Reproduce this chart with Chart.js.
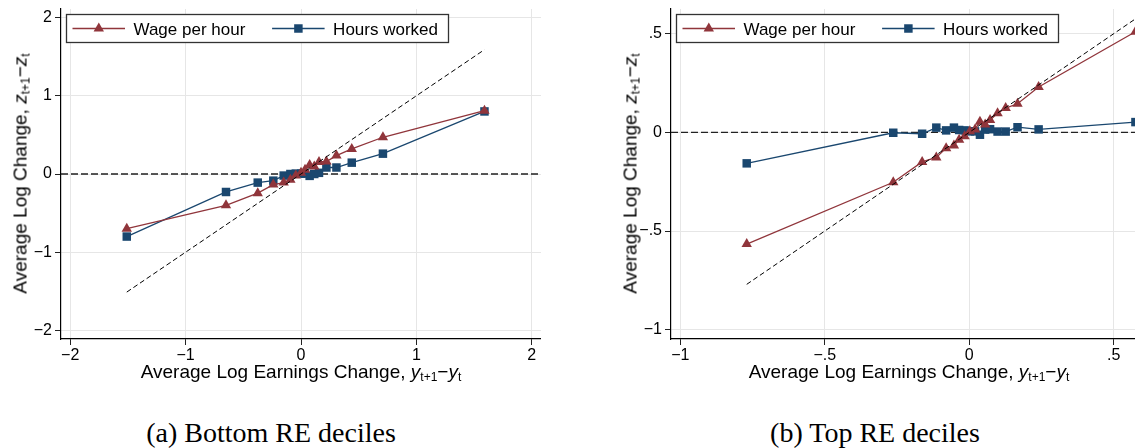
<!DOCTYPE html>
<html>
<head>
<meta charset="utf-8">
<script src="https://cdn.jsdelivr.net/npm/chart.js@4.4.1/dist/chart.umd.min.js"></script>
<style>
  html, body { margin: 0; padding: 0; background: #fff; }
  #wrap { position: relative; width: 1135px; height: 448px; overflow: hidden; }
  canvas { position: absolute; top: 0; }
  .xt, .yt { position: absolute; font-family: "Liberation Sans", Arial, sans-serif; font-size: 19px;
             line-height: 19px; height: 19px; width: 400px; text-align: center; color: #000; white-space: nowrap; }
  .yt { width: 300px; transform: rotate(-90deg); }
  .xt sub, .yt sub { font-size: 12px; vertical-align: -3px; line-height: 0; }
  .cap { position: absolute; font-family: "Liberation Serif", "Times New Roman", serif; font-size: 28px;
         line-height: 28px; width: 400px; text-align: center; color: #000; white-space: nowrap; }
</style>
</head>
<body>
<div id="wrap">
  <canvas id="cA" width="541" height="372" style="left:0"></canvas>
  <canvas id="cB" width="537" height="372" style="left:610px"></canvas>

  <div class="yt" style="left:-129.6px; top:163.5px">Average Log Change, <i>z</i><sub>t+1</sub>−<i>z</i><sub>t</sub></div>
  <div class="yt" style="left:480.4px; top:163.5px">Average Log Change, <i>z</i><sub>t+1</sub>−<i>z</i><sub>t</sub></div>
  <div class="xt" style="left:101px; top:362px">Average Log Earnings Change, <i>y</i><sub>t+1</sub>−<i>y</i><sub>t</sub></div>
  <div class="xt" style="left:709px; top:362px">Average Log Earnings Change, <i>y</i><sub>t+1</sub>−<i>y</i><sub>t</sub></div>

  <div class="cap" style="left:71px; top:418.5px">(a) Bottom RE deciles</div>
  <div class="cap" style="left:675px; top:418.5px">(b) Top RE deciles</div>
</div>

<script>
// ---- panel (a): bottom RE deciles ----
const earnA = [-1.51, -0.65, -0.375, -0.24, -0.15, -0.092, -0.045, 0.0, 0.035, 0.075, 0.115, 0.156, 0.22, 0.307, 0.44, 0.71, 1.59];
const wageA = [-0.70, -0.40, -0.245, -0.135, -0.11, -0.075, -0.02, 0.017, 0.055, 0.115, 0.095, 0.155, 0.16, 0.235, 0.32, 0.47, 0.81];
const hoursA = [-0.80, -0.23, -0.11, -0.085, -0.02, 0.0, 0.005, 0.005, 0.005, -0.024, 0.0, 0.015, 0.083, 0.083, 0.145, 0.26, 0.80];
const xTicksA = [-2, -1, 0, 1, 2];
const yTicksA = [-2, -1, 0, 1, 2];
const xRangeA = [-2.08, 2.08];
const yRangeA = [-2.11, 2.11];

// ---- panel (b): top RE deciles ----
const earnB = [-0.77, -0.263, -0.163, -0.114, -0.08, -0.053, -0.035, -0.016, 0.002, 0.02, 0.037, 0.055, 0.072, 0.098, 0.126, 0.167, 0.24, 0.575];
const wageB = [-0.566, -0.253, -0.15, -0.127, -0.08, -0.066, -0.037, -0.02, 0.005, 0.015, 0.054, 0.04, 0.063, 0.097, 0.123, 0.145, 0.23, 0.51];
const hoursB = [-0.157, -0.002, -0.007, 0.024, 0.01, 0.024, 0.012, 0.01, 0.005, 0.005, -0.012, 0.014, 0.016, 0.004, 0.004, 0.026, 0.015, 0.052];
const xTicksB = [-1, -0.5, 0, 0.5];
const yTicksB = [-1, -0.5, 0, 0.5];
const xRangeB = [-1.032, 0.615];
const yRangeB = [-1.047, 0.625];

const seriesNames = ['Wage per hour', 'Hours worked'];
const RED = '#90353b';
const NAVY = '#1a476f';

function fmt(v) {
  if (v === 0) return '0';
  let s = String(Math.abs(v)).replace(/^0\./, '.');
  return (v < 0 ? '\u2212' : '') + s;
}

function marker(ctx, style, x, y, r, color) {
  ctx.fillStyle = color;
  ctx.beginPath();
  if (style === 'triangle') {
    ctx.moveTo(x, y - r);
    ctx.lineTo(x + r * 0.866, y + r * 0.5);
    ctx.lineTo(x - r * 0.866, y + r * 0.5);
    ctx.closePath();
  } else {
    const h = r * Math.SQRT1_2;
    ctx.rect(x - h, y - h, 2 * h, 2 * h);
  }
  ctx.fill();
}

// legend in a framed box inside the plot, like Stata
const boxLegend = {
  id: 'boxLegend',
  afterDraw(chart) {
    const ctx = chart.ctx, a = chart.chartArea;
    const x0 = a.left + 5.5, y0 = 14.5, w = 382, h = 28;
    ctx.save();
    ctx.fillStyle = '#fff';
    ctx.fillRect(x0, y0, w, h);
    ctx.strokeStyle = '#333';
    ctx.lineWidth = 1.3;
    ctx.strokeRect(x0, y0, w, h);
    const yc = y0 + h / 2;
    chart.data.datasets.filter(d => d.inLegend).forEach((d, i) => {
      const ox = x0 + i * 199.6;
      ctx.strokeStyle = d.borderColor;
      ctx.lineWidth = d.borderWidth;
      ctx.beginPath();
      ctx.moveTo(ox + 6, yc);
      ctx.lineTo(ox + 58.5, yc);
      ctx.stroke();
      marker(ctx, d.pointStyle, ox + 32.3, yc, d.pointRadius, d.backgroundColor);
      ctx.fillStyle = '#000';
      ctx.font = '17px "Liberation Sans", Arial, sans-serif';
      ctx.textBaseline = 'alphabetic';
      ctx.fillText(d.label, ox + 67, yc + 6.5);
    });
    ctx.restore();
  }
};

function pts(xs, ys) { return xs.map((x, i) => ({ x: x, y: ys[i] })); }

function axis(range, ticks, isX) {
  return {
    type: 'linear',
    min: range[0],
    max: range[1],
    afterBuildTicks: s => { s.ticks = ticks.map(v => ({ value: v })); },
    afterFit: s => {
      if (isX) s.height = 33; else s.width = 61;
      s.paddingLeft = 0; s.paddingRight = 0; s.paddingTop = 0; s.paddingBottom = 0;
    },
    grid: { color: '#e6e6e6', lineWidth: 1, tickColor: '#222', tickLength: 6 },
    border: { display: true, color: '#000', width: 1.2 },
    ticks: {
      color: '#000',
      font: { family: '"Liberation Sans", Arial, sans-serif', size: 16 },
      padding: isX ? 1 : 3,
      maxRotation: 0,
      autoSkip: false,
      callback: v => fmt(v)
    }
  };
}

function makePanel(id, earn, wage, hours, xr, yr, xt, yt) {
  new Chart(document.getElementById(id), {
    type: 'scatter',
    data: {
      datasets: [
        { // 45 degree line
          data: pts([earn[0], earn[earn.length - 1]], [earn[0], earn[earn.length - 1]]),
          showLine: true, borderColor: '#000', borderWidth: 1, borderDash: [5, 3],
          pointRadius: 0
        },
        {
          label: seriesNames[0], inLegend: true,
          data: pts(earn, wage),
          showLine: true, borderColor: RED, backgroundColor: RED, borderWidth: 1.3,
          pointStyle: 'triangle', pointRadius: 6, pointBorderWidth: 0
        },
        {
          label: seriesNames[1], inLegend: true,
          data: pts(earn, hours),
          showLine: true, borderColor: NAVY, backgroundColor: NAVY, borderWidth: 1.3,
          pointStyle: 'rect', pointRadius: 6, pointBorderWidth: 0
        },
        { // zero line
          data: pts(xr, [0, 0]),
          showLine: true, borderColor: '#222', borderWidth: 1.3, borderDash: [7, 3],
          pointRadius: 0
        }
      ]
    },
    options: {
      responsive: false,
      animation: false,
      devicePixelRatio: 1,
      layout: { autoPadding: false, padding: { top: 9, right: 0, left: 0, bottom: 0 } },
      plugins: { legend: { display: false }, tooltip: { enabled: false } },
      scales: {
        x: axis(xr, xt, true),
        y: axis(yr, yt, false)
      }
    },
    plugins: [boxLegend]
  });
}

makePanel('cA', earnA, wageA, hoursA, xRangeA, yRangeA, xTicksA, yTicksA);
makePanel('cB', earnB, wageB, hoursB, xRangeB, yRangeB, xTicksB, yTicksB);
</script>
</body>
</html>
